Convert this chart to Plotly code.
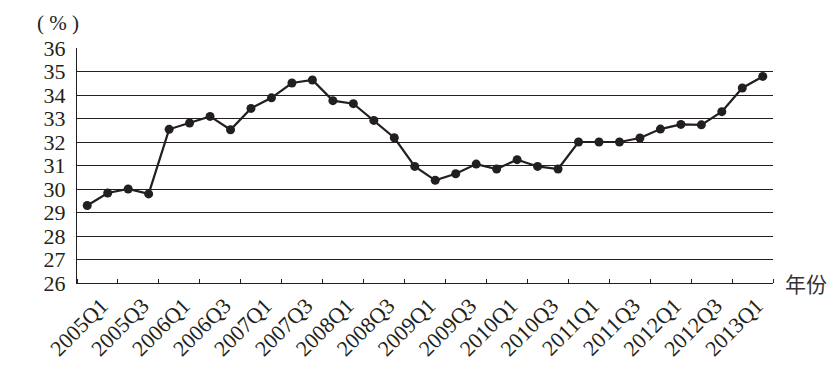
import plotly.graph_objects as go

quarters = [f"{y}Q{q}" for y in range(2005, 2014) for q in range(1, 5)][:34]
values = [29.30, 29.83, 30.00, 29.79, 32.54, 32.81, 33.09, 32.52,
          33.43, 33.88, 34.51, 34.64, 33.76, 33.63, 32.92, 32.18,
          30.96, 30.37, 30.65, 31.06, 30.85, 31.25, 30.96, 30.85,
          32.00, 32.00, 32.00, 32.17, 32.55, 32.75, 32.73, 33.29,
          34.30, 34.79]
tick_labels = quarters[::2]
y_ticks = list(range(26, 37))

idx = list(range(len(quarters)))
label_pos = [i + 0.7 for i in idx[::2]]

ink = "#231f20"
serif = "Liberation Serif"

fig = go.Figure()
fig.add_trace(go.Scatter(
    x=idx, y=values, mode="lines+markers",
    line=dict(color=ink, width=2.2),
    marker=dict(color=ink, size=9),
    customdata=quarters,
    hovertemplate="%{customdata}: %{y}%<extra></extra>",
    showlegend=False,
))

fig.update_layout(
    width=831, height=371,
    margin=dict(l=69, r=66, t=40, b=96),
    paper_bgcolor="white", plot_bgcolor="white",
    font=dict(family=serif, color=ink, size=21),
    xaxis=dict(
        range=[-0.5, len(quarters) - 0.5], automargin=False,
        tickmode="array", tickvals=label_pos, ticktext=tick_labels,
        tickangle=-45, ticks="", showgrid=False, zeroline=False,
        showline=True, linecolor=ink, linewidth=1.3,
        tickfont=dict(family=serif, size=22, color=ink),
        ticklabelstandoff=0,
        minor=dict(tickmode="linear", tick0=-0.5, dtick=2, ticks="inside",
                   ticklen=4, tickcolor=ink, tickwidth=1.2, showgrid=False),
    ),
    yaxis=dict(
        range=[26, 36], tickmode="array", tickvals=y_ticks, automargin=False,
        ticks="", showgrid=True, gridcolor=ink, gridwidth=1.3,
        zeroline=False, showline=True, linecolor=ink, linewidth=1.3,
        tickfont=dict(family=serif, size=22, color=ink),
        ticklabelstandoff=6,
    ),
    annotations=[
        dict(text="( % )", xref="paper", yref="paper", x=-0.028, y=1,
             yshift=25, xanchor="center", yanchor="middle", showarrow=False,
             font=dict(family=serif, size=21, color=ink)),
        dict(text="年份", xref="paper", yref="paper", x=1, y=0, xshift=10,
             xanchor="left", yanchor="middle", showarrow=False,
             font=dict(family="Noto Sans CJK SC", size=21, color="#333333")),
    ],
)

fig.write_html("out.html")
